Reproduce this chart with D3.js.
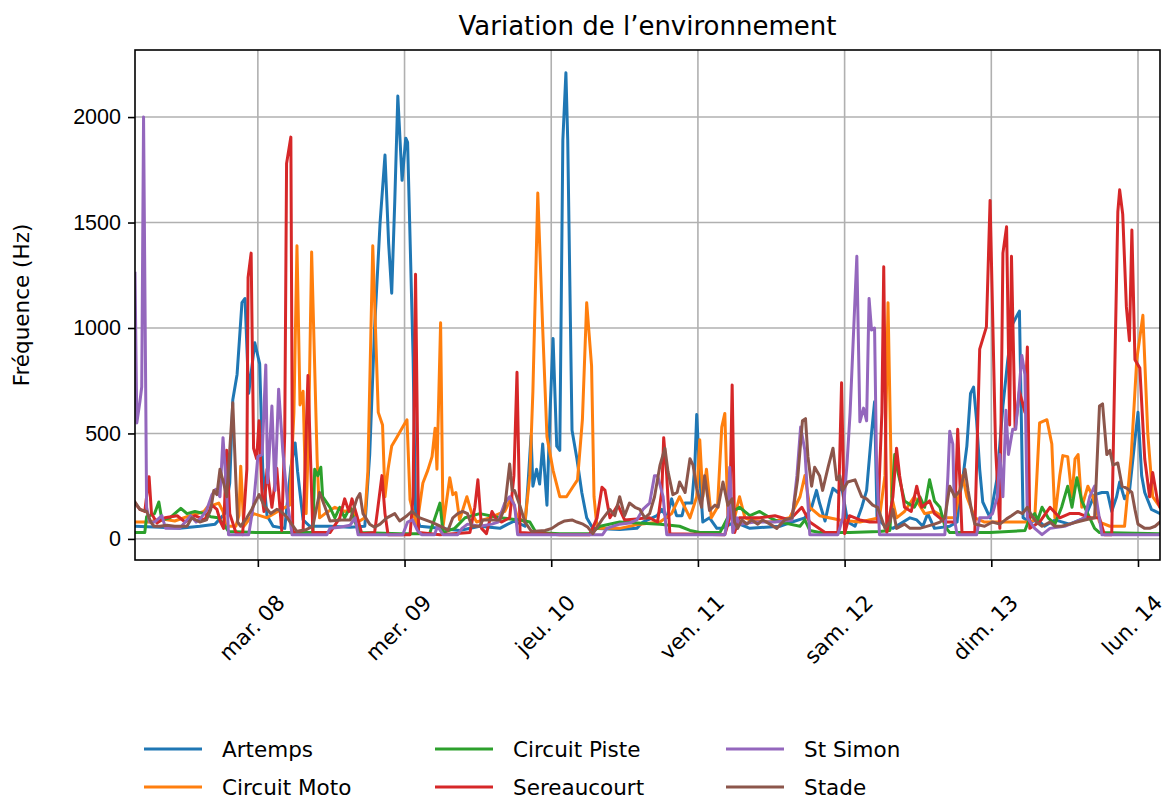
<!DOCTYPE html>
<html>
<head>
<meta charset="utf-8">
<script src="https://cdn.jsdelivr.net/npm/d3@7"></script>
<style>
  body { margin: 0; background: #fff; }
  svg { font-family: "DejaVu Sans", sans-serif; }
</style>
</head>
<body>
<svg id="chart" width="1168" height="801"></svg>
<script>
// heures depuis lun. 07/03/2022 00:00 (UTC), valeur en Hz
const seriesNames = ["Artemps", "Circuit Moto", "Circuit Piste", "Sereaucourt", "St Simon", "Stade"];
const colors = ["#1f77b4", "#ff7f0e", "#2ca02c", "#d62728", "#9467bd", "#8c564b"];

const artemps = [[3.9,60],[8.0,55],[11.2,50],[14.5,60],[17.0,70],[18.6,120],[19.4,265],[19.9,660],[20.6,780],[21.4,1120],[21.9,1140],[22.5,690],[23.5,930],[24.3,830],[24.8,330],[25.5,110],[26.5,60],[28.4,50],[29.4,340],[30.1,455],[30.5,320],[31.4,90],[32.5,60],[35.8,60],[39.1,55],[41.5,60],[42.3,400],[43.1,1000],[44.0,1500],[44.8,1820],[45.4,1400],[45.9,1165],[46.4,1600],[46.9,2100],[47.6,1700],[48.2,1900],[48.5,1880],[49.4,860],[49.8,120],[50.5,60],[53.8,50],[57.0,40],[60.3,60],[63.6,50],[64.9,70],[66.0,85],[67.7,60],[68.2,260],[68.7,490],[69.0,250],[69.6,330],[70.1,260],[70.6,450],[71.3,160],[71.8,600],[72.3,950],[72.9,440],[73.4,420],[73.9,1890],[74.4,2210],[74.7,1890],[75.4,515],[76.2,380],[77.0,220],[77.8,100],[78.8,50],[83.2,45],[86.0,50],[87.0,80],[89.3,110],[90.1,140],[90.9,100],[91.7,190],[92.5,110],[93.4,110],[93.9,170],[95.0,170],[95.5,350],[95.8,590],[96.3,300],[96.8,80],[97.9,100],[99.1,50],[99.9,50],[102.0,80],[104.5,50],[109.4,60],[111.4,80],[113.5,100],[114.6,150],[115.4,230],[115.9,170],[116.8,85],[117.6,190],[118.1,240],[118.9,220],[119.5,250],[120.5,80],[121.7,60],[122.8,150],[123.6,230],[124.4,500],[124.9,650],[125.3,100],[126.6,60],[127.9,50],[130.7,100],[131.8,90],[132.8,60],[133.6,120],[134.7,50],[137.2,60],[138.4,80],[138.8,200],[139.3,280],[140.0,440],[140.6,690],[141.1,720],[141.6,560],[142.1,330],[142.6,175],[143.8,100],[144.9,280],[145.4,450],[145.9,630],[146.7,850],[147.5,1020],[148.6,1080],[149.2,100],[150.3,80],[151.6,90],[152.7,60],[154.4,90],[156.8,70],[159.3,100],[160.9,210],[162.1,220],[163.0,220],[163.7,130],[164.5,200],[165.0,270],[165.8,190],[166.6,225],[167.5,470],[168.0,600],[168.6,300],[169.1,220],[170.2,140],[171.6,120]];

const circuitMoto = [[3.9,80],[6.3,80],[8.1,95],[10.4,85],[12.9,110],[15.2,130],[15.7,150],[17.6,170],[18.3,130],[18.8,60],[20.4,60],[20.9,110],[21.2,345],[21.7,60],[23.3,120],[25.5,100],[27.8,140],[29.2,160],[29.9,600],[30.4,1390],[30.9,635],[31.4,700],[31.9,120],[32.3,500],[32.8,1360],[33.7,375],[34.1,100],[35.0,120],[36.6,150],[38.2,130],[39.4,140],[40.4,80],[41.5,100],[42.0,320],[42.8,1390],[43.7,600],[44.4,540],[44.8,200],[45.3,330],[45.9,440],[46.7,480],[47.7,530],[48.4,565],[48.9,185],[50.0,60],[51.0,265],[51.8,325],[52.5,390],[53.0,525],[53.3,330],[53.9,1025],[54.3,60],[55.4,290],[55.9,210],[56.4,220],[57.0,90],[58.2,200],[59.0,120],[59.8,80],[61.9,100],[64.4,130],[65.5,200],[66.5,100],[67.7,80],[68.5,300],[69.0,700],[69.8,1640],[70.6,1000],[71.3,485],[72.3,325],[73.4,200],[74.5,200],[75.5,245],[76.3,280],[77.1,565],[77.8,1120],[78.6,820],[79.0,200],[79.5,50],[83.2,50],[86.5,70],[89.8,80],[91.7,120],[93.0,200],[94.7,100],[95.8,200],[96.3,470],[96.8,200],[97.4,330],[98.2,100],[99.2,150],[99.9,530],[100.4,595],[100.9,100],[102.0,100],[102.8,200],[103.7,100],[104.5,90],[107.8,80],[111.0,100],[112.7,200],[113.5,300],[114.3,150],[115.9,110],[119.2,90],[122.5,80],[125.7,100],[126.6,300],[127.1,1120],[127.7,200],[128.5,100],[129.8,130],[131.4,200],[133.1,120],[134.7,130],[136.4,100],[138.0,100],[139.3,300],[140.0,200],[141.3,100],[142.9,80],[145.4,80],[150.3,80],[151.1,90],[151.9,550],[153.1,565],[153.9,450],[154.4,100],[155.2,300],[155.7,395],[156.5,390],[157.2,200],[157.7,380],[158.2,400],[158.8,150],[159.8,250],[160.6,200],[161.7,80],[163.4,60],[165.8,60],[166.9,400],[167.8,850],[168.8,1060],[169.6,500],[170.4,200],[171.6,150]];

const circuitPiste = [[3.9,30],[5.5,30],[5.8,105],[7.1,120],[7.8,175],[8.3,90],[9.6,100],[11.4,145],[12.4,120],[13.7,130],[15.3,120],[16.3,105],[17.5,100],[18.4,70],[19.2,35],[24.3,30],[28.2,30],[33.0,30],[33.3,330],[33.8,300],[34.3,340],[34.6,200],[35.8,150],[36.6,100],[37.4,150],[38.2,100],[39.1,150],[39.9,80],[40.7,30],[47.2,25],[52.1,25],[53.8,170],[54.3,30],[56.2,50],[57.9,100],[60.3,120],[63.6,100],[66.9,90],[68.5,80],[69.5,30],[73.4,25],[78.3,25],[80.0,60],[83.2,80],[89.8,70],[93.0,60],[94.7,40],[96.3,30],[99.6,30],[101.2,120],[102.8,150],[104.5,110],[106.1,130],[107.8,100],[109.4,80],[111.0,70],[112.7,60],[113.5,90],[114.3,40],[115.9,30],[120.8,30],[125.7,35],[127.4,40],[128.2,400],[128.7,320],[129.8,180],[131.4,150],[132.3,200],[133.1,150],[133.9,280],[134.7,180],[135.6,150],[136.4,60],[137.2,30],[143.8,30],[149.5,40],[150.3,100],[151.1,120],[151.6,90],[152.3,150],[153.3,100],[154.4,70],[155.5,150],[156.5,250],[157.2,150],[158.0,290],[158.8,180],[160.1,100],[160.9,50],[161.7,30],[171.6,25]];

const sereaucourt = [[3.9,170],[4.7,140],[5.5,130],[6.2,295],[6.6,120],[7.5,75],[8.8,100],[10.8,110],[12.1,80],[13.7,110],[15.3,90],[16.5,160],[17.3,140],[17.9,80],[18.4,50],[18.9,420],[19.4,120],[20.4,30],[21.5,20],[22.2,330],[22.4,1240],[22.9,1355],[23.3,430],[23.8,380],[24.2,560],[24.7,200],[25.0,130],[25.5,330],[26.3,150],[27.1,335],[27.9,40],[28.4,500],[28.7,1780],[29.4,1905],[29.7,30],[31.4,40],[32.2,775],[33.0,30],[35.8,30],[37.4,100],[38.2,190],[38.9,130],[39.4,190],[40.2,110],[41.0,25],[43.1,30],[43.6,140],[44.3,300],[44.8,120],[45.3,20],[48.9,20],[49.4,200],[49.8,1255],[50.3,30],[53.8,20],[58.7,30],[59.5,150],[60.0,280],[60.6,50],[61.4,25],[62.3,130],[63.1,90],[63.9,80],[65.2,100],[65.9,300],[66.4,790],[66.9,30],[73.4,20],[78.3,20],[79.5,100],[80.3,245],[80.8,230],[81.6,100],[82.9,160],[84.0,90],[86.0,95],[88.1,100],[89.4,80],[90.1,230],[90.4,480],[90.9,300],[91.4,25],[100.4,20],[101.2,100],[101.6,730],[102.0,30],[102.8,100],[106.1,100],[108.6,110],[111.0,90],[113.0,150],[114.3,80],[116.8,30],[118.9,30],[119.5,740],[120.0,25],[120.8,110],[122.5,90],[124.1,80],[125.4,80],[126.1,600],[126.4,1290],[126.9,30],[127.9,200],[128.5,430],[129.0,300],[129.8,150],[130.9,130],[131.8,250],[132.6,150],[133.9,180],[134.7,120],[136.4,80],[138.0,80],[138.5,520],[139.2,30],[141.3,30],[142.1,900],[143.2,1005],[143.8,1605],[144.7,430],[145.4,50],[145.9,1355],[146.5,1480],[147.0,540],[147.3,1340],[147.9,520],[148.6,700],[149.5,600],[149.9,910],[150.3,50],[151.9,80],[153.6,150],[155.2,100],[156.8,120],[158.4,120],[160.1,100],[161.7,100],[162.5,20],[163.7,20],[164.2,800],[164.7,1550],[165.0,1655],[165.5,1540],[166.1,1100],[166.6,940],[167.0,1465],[167.5,850],[168.3,810],[169.1,380],[169.9,200],[170.4,315],[171.2,180],[171.6,150]];

const stSimon = [[3.9,1260],[4.2,550],[4.7,650],[5.0,720],[5.3,2000],[5.8,150],[6.3,80],[7.1,80],[8.3,110],[8.9,50],[11.2,50],[13.0,110],[13.9,80],[14.7,100],[15.6,135],[16.5,210],[17.1,235],[17.8,200],[18.3,480],[18.9,220],[19.2,20],[22.5,20],[23.3,165],[24.0,390],[24.7,400],[25.3,825],[25.6,265],[26.3,630],[26.8,230],[27.4,710],[28.1,410],[28.9,160],[29.6,20],[35.3,20],[35.8,50],[37.4,55],[39.1,65],[39.9,100],[40.4,20],[47.7,20],[48.5,80],[49.3,90],[50.1,40],[50.8,20],[52.9,20],[53.4,60],[54.3,20],[56.7,20],[57.4,50],[58.3,70],[60.3,60],[62.3,70],[63.3,80],[63.9,130],[64.4,170],[65.2,200],[66.0,160],[66.5,20],[80.4,20],[81.1,50],[83.2,70],[84.8,75],[86.0,90],[87.0,140],[88.1,170],[88.9,300],[89.4,300],[90.3,200],[90.9,20],[100.4,20],[100.9,100],[101.2,340],[101.7,30],[102.4,100],[102.8,70],[105.3,80],[108.6,80],[111.4,90],[112.2,300],[112.8,530],[113.5,420],[114.3,20],[118.9,20],[119.7,100],[120.4,360],[120.9,600],[122.0,1340],[122.5,555],[123.1,620],[123.6,560],[124.0,1140],[124.4,990],[124.9,1000],[125.2,400],[125.7,20],[136.4,20],[136.9,300],[137.2,510],[137.7,450],[138.0,90],[138.4,20],[141.6,20],[142.1,100],[143.4,100],[144.2,120],[145.0,200],[145.4,400],[145.9,200],[146.4,610],[146.8,400],[147.5,520],[148.0,520],[148.5,690],[149.0,870],[149.5,780],[149.9,100],[151.1,50],[152.3,20],[153.6,50],[156.0,60],[157.7,80],[159.3,100],[160.1,200],[160.9,250],[161.4,150],[162.1,20],[171.6,20]];

const stade = [[3.9,175],[4.7,140],[5.8,130],[6.5,80],[7.0,60],[8.0,60],[9.1,65],[10.4,60],[12.4,60],[13.2,100],[14.5,80],[15.6,90],[16.3,140],[16.8,230],[17.3,210],[17.8,330],[18.4,265],[18.9,200],[19.6,510],[19.9,645],[20.4,280],[20.7,80],[21.2,60],[22.2,100],[23.0,140],[24.2,210],[25.0,160],[26.1,120],[27.1,140],[27.6,135],[28.7,105],[30.4,35],[32.0,45],[33.0,60],[34.1,220],[35.0,150],[35.8,85],[37.7,90],[39.1,90],[40.2,190],[40.7,215],[41.2,120],[42.3,70],[43.1,55],[44.0,70],[45.1,100],[46.4,120],[47.2,85],[48.4,110],[49.2,130],[50.5,100],[52.4,80],[54.3,55],[55.1,40],[55.9,100],[56.7,120],[57.5,130],[58.3,120],[59.0,60],[60.3,60],[60.8,90],[63.6,90],[64.4,150],[65.2,355],[65.6,230],[66.0,230],[66.9,155],[67.7,80],[68.8,35],[71.0,40],[72.1,50],[73.1,70],[74.2,85],[75.4,90],[76.2,80],[77.2,70],[78.0,55],[78.8,25],[79.6,60],[80.4,95],[81.6,140],[82.4,110],[83.2,200],[84.0,110],[84.8,170],[85.7,150],[86.5,140],[87.3,100],[88.1,120],[88.9,200],[89.8,350],[90.6,430],[91.1,320],[91.9,210],[92.6,220],[93.0,270],[93.9,220],[94.7,380],[95.2,350],[95.8,240],[96.6,150],[97.1,300],[97.9,135],[98.8,160],[99.3,150],[100.1,270],[100.9,160],[101.6,190],[102.0,80],[102.5,50],[103.2,90],[104.0,70],[104.8,90],[105.8,70],[106.6,90],[107.8,70],[108.9,50],[110.2,90],[111.4,100],[112.3,280],[113.1,560],[113.6,570],[114.0,390],[114.6,250],[115.1,340],[115.9,300],[116.4,230],[117.3,340],[118.1,430],[118.7,280],[119.2,300],[119.7,230],[120.5,270],[121.7,280],[122.8,200],[123.6,190],[124.6,160],[125.4,150],[126.6,50],[127.4,80],[127.9,140],[128.5,50],[129.8,70],[130.7,50],[132.3,50],[134.7,70],[135.6,80],[136.4,100],[137.2,250],[138.0,200],[138.9,230],[139.7,330],[140.2,230],[140.8,130],[141.3,70],[142.9,60],[144.2,80],[145.4,70],[146.5,95],[147.3,110],[148.3,130],[149.1,120],[149.9,150],[150.6,110],[151.4,80],[152.3,60],[153.6,80],[154.4,60],[155.5,60],[156.8,70],[158.0,80],[159.3,90],[160.9,100],[161.7,630],[162.2,640],[162.9,400],[163.4,420],[163.9,350],[164.7,360],[165.4,250],[166.2,240],[167.0,220],[167.5,140],[168.0,70],[169.1,50],[169.9,50],[170.8,60],[171.6,80]];

const allSeries = [artemps, circuitMoto, circuitPiste, sereaucourt, stSimon, stade];

const yTicks = [0, 500, 1000, 1500, 2000];
const tickDays = [8, 9, 10, 11, 12, 13, 14];
const tickLabels = ["mar. 08", "mer. 09", "jeu. 10", "ven. 11", "sam. 12", "dim. 13", "lun. 14"];
const xStartHour = 3.9, xEndHour = 171.6;
const yMin = -100, yMax = 2318;

const t0 = Date.UTC(2022, 2, 7);
const toDate = h => new Date(t0 + h * 3600e3);

const margin = { top: 50, right: 8, bottom: 241, left: 135 };
const width = 1168 - margin.left - margin.right;
const height = 801 - margin.top - margin.bottom;
const fs = 21.5;

const svg = d3.select("#chart");
const g = svg.append("g").attr("transform", `translate(${margin.left},${margin.top})`);

const x = d3.scaleUtc().domain([toDate(xStartHour), toDate(xEndHour)]).range([0, width]);
const y = d3.scaleLinear().domain([yMin, yMax]).range([height, 0]);

const tickDates = tickDays.map(d => new Date(Date.UTC(2022, 2, d)));

// grille
g.append("g").selectAll("line").data(tickDates).enter().append("line")
  .attr("x1", d => x(d)).attr("x2", d => x(d))
  .attr("y1", 0).attr("y2", height)
  .attr("stroke", "#b0b0b0").attr("stroke-width", 1.6);
g.append("g").selectAll("line").data(yTicks).enter().append("line")
  .attr("x1", 0).attr("x2", width)
  .attr("y1", d => y(d)).attr("y2", d => y(d))
  .attr("stroke", "#b0b0b0").attr("stroke-width", 1.6);

svg.append("defs").append("clipPath").attr("id", "clip")
  .append("rect").attr("width", width).attr("height", height);

const line = d3.line().x(d => x(toDate(d[0]))).y(d => y(d[1]));

g.append("g").attr("clip-path", "url(#clip)")
  .selectAll("path").data(allSeries).enter().append("path")
  .attr("d", line)
  .attr("fill", "none")
  .attr("stroke", (d, i) => colors[i])
  .attr("stroke-width", 3)
  .attr("stroke-linejoin", "round")
  .attr("stroke-linecap", "square");

// axes
const yAxis = g.append("g")
  .call(d3.axisLeft(y).tickValues(yTicks).tickSize(7).tickPadding(7).tickFormat(d3.format("d")));
const xAxis = g.append("g").attr("transform", `translate(0,${height})`)
  .call(d3.axisBottom(x).tickValues(tickDates).tickSize(7).tickFormat(""));
[yAxis, xAxis].forEach(a => {
  a.select(".domain").remove();
  a.selectAll(".tick line").attr("stroke", "#000").attr("stroke-width", 1.6);
  a.selectAll("text").attr("font-size", fs).attr("font-family", null).attr("fill", "#000");
});

g.append("rect").attr("width", width).attr("height", height)
  .attr("fill", "none").attr("stroke", "#000").attr("stroke-width", 1.6);

// étiquettes de dates inclinées
tickDates.forEach((d, i) => {
  const t = g.append("text")
    .attr("font-size", fs)
    .attr("text-anchor", "middle")
    .attr("dominant-baseline", "central")
    .text(tickLabels[i]);
  const L = t.node().getComputedTextLength();
  const H = (L + fs * 0.75) * Math.SQRT1_2;
  t.attr("transform", `translate(${x(d) - 6},${height + 33 + H / 2}) rotate(-45)`);
});

// titres
svg.append("text").attr("x", margin.left + width / 2).attr("y", 35)
  .attr("text-anchor", "middle").attr("font-size", 26).text("Variation de l’environnement");
svg.append("text").attr("transform", `translate(29,${margin.top + height / 2}) rotate(-90)`)
  .attr("text-anchor", "middle").attr("font-size", fs).text("Fréquence (Hz)");

// légende
const legend = svg.append("g");
seriesNames.forEach((name, i) => {
  const col = Math.floor(i / 2), row = i % 2;
  const lx = 144 + col * 291, ly = 749 + row * 38;
  legend.append("line").attr("x1", lx).attr("x2", lx + 58).attr("y1", ly).attr("y2", ly)
    .attr("stroke", colors[i]).attr("stroke-width", 3);
  legend.append("text").attr("x", lx + 78).attr("y", ly).attr("dominant-baseline", "central")
    .attr("font-size", fs).text(name);
});
</script>
</body>
</html>
